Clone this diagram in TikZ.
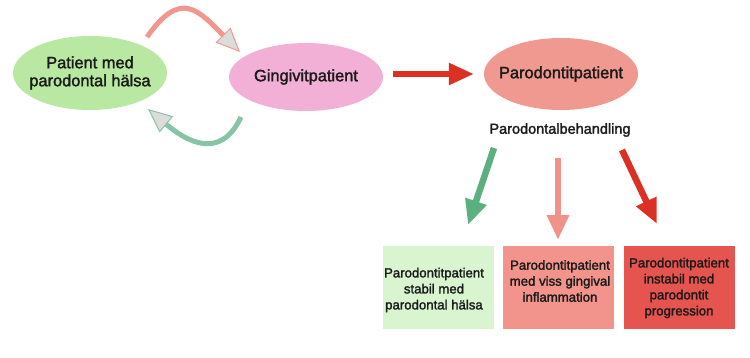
\documentclass[tikz,border=0pt]{standalone}
\usepackage{fontspec}
\setmainfont{Liberation Sans}[FakeBold=1.8]
\usetikzlibrary{shapes.geometric,arrows.meta}
\definecolor{greenEll}{HTML}{B8E8A2}
\definecolor{pinkEll}{HTML}{F2B0D6}
\definecolor{salmonEll}{HTML}{F09990}
\definecolor{greenBox}{HTML}{D8F5D0}
\definecolor{pinkBox}{HTML}{F2948C}
\definecolor{redBox}{HTML}{E5544F}
\definecolor{redArrow}{HTML}{DC3025}
\definecolor{greenArrow}{HTML}{5CB07F}
\definecolor{pinkArrow}{HTML}{F0928A}
\definecolor{curvePink}{HTML}{F0988D}
\definecolor{curveGreen}{HTML}{86C4A5}
\definecolor{headGray}{HTML}{DCDCDC}
\definecolor{txt}{HTML}{1A1A1A}
\begin{document}
\begin{tikzpicture}[x=1pt,y=1pt,
  ell/.style={ellipse, minimum width=154pt, inner xsep=-14pt, inner ysep=0pt, align=center,
    text=txt, font=\fontsize{16.4}{18}\selectfont},
  box/.style={rectangle, minimum width=111pt, minimum height=83pt, inner sep=0pt},
  boxtext/.style={align=center, text=txt, font=\fontsize{13.2}{16}\selectfont},
  bigarrow/.style={line width=6.5pt, -{Triangle[length=25pt,width=21pt]}},
  curvearrow/.style={line width=5pt, -{Triangle[length=24pt,width=21pt,fill=headGray,line width=1pt]}}
]
\useasboundingbox (0,0) rectangle (750,357);
\fill[white] (0,0) rectangle (750,357);

% ellipses
\node[ell, fill=greenEll, minimum height=74pt] (health) at (90,284) {Patient med\\parodontal hälsa};
\node[ell, fill=pinkEll, minimum height=68pt] (ging) at (306,280) {Gingivitpatient};
\node[ell, fill=salmonEll, minimum height=72pt] (perio) at (561,283) {Parodontitpatient};

% horizontal arrow
\draw[bigarrow, redArrow, line width=5.5pt] ([xshift=10pt,yshift=3pt]ging.east) -- ([xshift=-10pt,yshift=0pt]perio.west);

% curved arrows
\coordinate (t1) at (147,320);
\coordinate (t2) at (240,305);
\draw[curvearrow, curvePink] (t1) to[out=55,in=135,looseness=1.6] (t2);
\coordinate (b1) at (241,240);
\coordinate (b2) at (148,248);
\draw[curvearrow, curveGreen] (b1) to[out=245,in=-40,looseness=1.35] (b2);

% treatment label
\node[text=txt, font=\fontsize{14.5}{17}\selectfont] (treat) at (560,227) {Parodontalbehandling};

% boxes
\node[box, fill=greenBox] (bstab) at (438.5,69.5) {};
\node[box, fill=pinkBox] (binfl) at (558.5,69.5) {};
\node[box, fill=redBox] (bprog) at (679,69.5) {};
\node[boxtext] (tstab) at (434,67) {Parodontitpatient\\stabil med\\parodontal hälsa};
\node[boxtext] (tinfl) at (560,76) {Parodontitpatient\\med viss gingival\\inflammation};
\node[boxtext] (tprog) at (679,69) {Parodontitpatient\\instabil med\\parodontit\\progression};

% down arrows
\coordinate (g1) at (494,209);
\coordinate (g2) at (468,132);
\coordinate (p1) at (558,199);
\coordinate (p2) at (558,117);
\coordinate (r1) at (622,207);
\coordinate (r2) at (657,133);
\draw[bigarrow, greenArrow] (g1) -- (g2);
\draw[bigarrow, pinkArrow] (p1) -- (p2);
\draw[bigarrow, redArrow] (r1) -- (r2);
\end{tikzpicture}
\end{document}
